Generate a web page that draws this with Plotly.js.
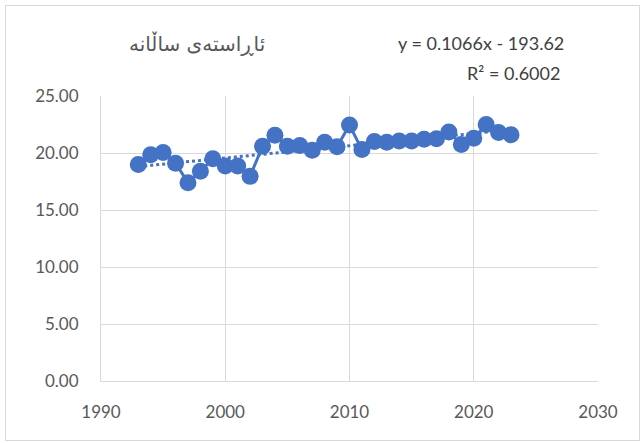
<!DOCTYPE html>
<html>
<head>
<meta charset="utf-8">
<script src="https://cdn.plot.ly/plotly-3.0.1.min.js"></script>
<style>
html,body{margin:0;padding:0;background:#fff;}
#wrap{position:relative;width:644px;height:443px;}
#chart{width:644px;height:443px;}
#frame{position:absolute;left:5px;top:5px;width:633px;height:434px;border:1px solid #d9d9d9;pointer-events:none;}
</style>
</head>
<body>
<div id="wrap"><div id="chart"></div><div id="frame"></div></div>
<script>
const years = [1993,1994,1995,1996,1997,1998,1999,2000,2001,2002,2003,2004,2005,2006,2007,2008,2009,2010,2011,2012,2013,2014,2015,2016,2017,2018,2019,2020,2021,2022,2023];
const values = [19.0,19.85,20.05,19.1,17.4,18.4,19.5,18.85,18.85,17.95,20.6,21.55,20.6,20.65,20.25,20.95,20.55,22.45,20.3,21.0,20.95,21.05,21.05,21.2,21.25,21.85,20.75,21.3,22.5,21.8,21.6];
const chartTitle = 'ئاڕاستەی ساڵانە';
const eqText = 'y = 0.1066x - 193.62';
const r2Text = 'R² = 0.6002';
const xTicks = [1990,2000,2010,2020,2030];
const yTicks = [0,5,10,15,20,25];

// least-squares linear trendline (as the spreadsheet's trendline)
const n = years.length;
const mx = years.reduce((a,b)=>a+b,0)/n;
const my = values.reduce((a,b)=>a+b,0)/n;
let sxy=0, sxx=0;
for(let i=0;i<n;i++){sxy+=(years[i]-mx)*(values[i]-my);sxx+=(years[i]-mx)**2;}
const slope = sxy/sxx, icpt = my - slope*mx;
const trendX = [years[0], years[n-1]];
const trendY = trendX.map(x=>slope*x+icpt);

const blue = '#4472C4';
const tickFont = {family:'Lato, Open Sans, sans-serif', size:17, color:'#595959'};
const data = [
  {x: trendX, y: trendY, type:'scatter', mode:'lines', line:{color:blue, width:3, dash:'dot'}, hoverinfo:'skip'},
  {x: years, y: values, type:'scatter', mode:'lines+markers', line:{color:blue, width:3}, marker:{color:blue, size:17}}
];
const layout = {
  width:644, height:443,
  margin:{l:101, r:46, t:96, b:62},
  paper_bgcolor:'#fff', plot_bgcolor:'#fff',
  showlegend:false,
  title:{text: chartTitle, font:{family:'DejaVu Sans, sans-serif', size:20, color:'#595959'}, xref:'container', yref:'container', x:0.306, xanchor:'center', y:0.9, yanchor:'middle'},
  xaxis:{range:[1990,2030], tickvals:xTicks, ticktext:xTicks.map(String), showgrid:true, gridcolor:'#d9d9d9', gridwidth:1, zeroline:false, showline:true, linecolor:'#d9d9d9', ticks:'', ticklen:0, ticklabelstandoff:16, tickfont:tickFont},
  yaxis:{range:[0,25], tickvals:yTicks, ticktext:yTicks.map(v=>v.toFixed(2)), showgrid:true, gridcolor:'#d9d9d9', gridwidth:1, zeroline:false, showline:true, linecolor:'#d9d9d9', ticks:'', ticklen:0, ticklabelstandoff:18, tickfont:tickFont},
  annotations:[
    {text:eqText, xref:'paper', yref:'paper', x:(566-101)/497, y:1+(96-43)/285, xanchor:'right', yanchor:'middle', showarrow:false, font:{family:'Lato, Open Sans, sans-serif', size:18, color:'#404040'}},
    {text:r2Text, xref:'paper', yref:'paper', x:(562-101)/497, y:1+(96-73)/285, xanchor:'right', yanchor:'middle', showarrow:false, font:{family:'Lato, Open Sans, sans-serif', size:18, color:'#404040'}}
  ]
};
Plotly.newPlot('chart', data, layout, {displayModeBar:false, staticPlot:true});
</script>
</body>
</html>
